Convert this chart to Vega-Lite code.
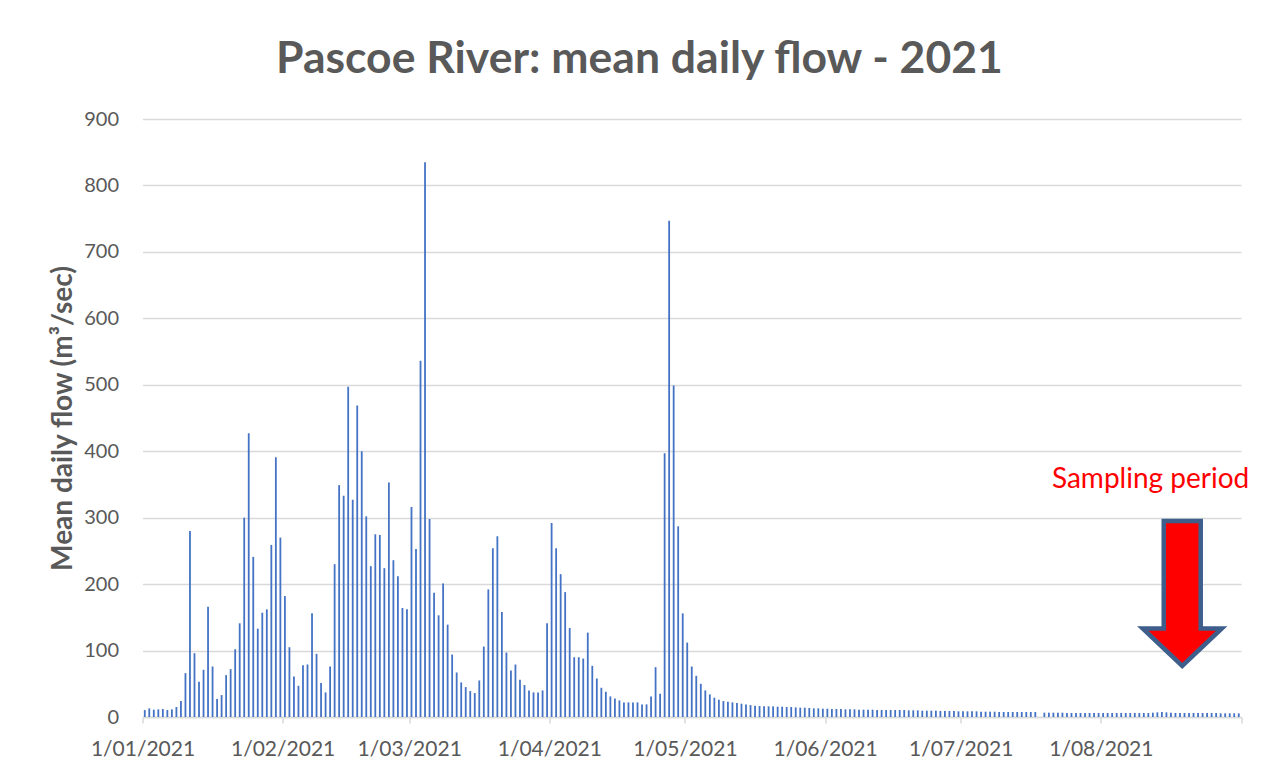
{
  "$schema": "https://vega.github.io/schema/vega-lite/v6.json",
  "width": 1098.5,
  "height": 598,
  "autosize": {"type": "none"},
  "padding": {"left": 142.5, "top": 119, "right": 21, "bottom": 57},
  "background": "white",
  "title": {
    "text": "Pascoe River: mean daily flow - 2021",
    "font": "Lato", "fontSize": 44.5, "fontWeight": "bold", "color": "#595959",
    "anchor": "middle", "frame": "bounds", "baseline": "alphabetic", "offset": -8, "dx": -10
  },
  "config": {"view": {"stroke": null}},
  "datasets": {
    "flow": [
      {"date":"2021-01-01","v":10.5},{"date":"2021-01-02","v":13},{"date":"2021-01-03","v":11},{"date":"2021-01-04","v":11.5},{"date":"2021-01-05","v":12},{"date":"2021-01-06","v":10.5},{"date":"2021-01-07","v":11.5},{"date":"2021-01-08","v":15},{"date":"2021-01-09","v":24},{"date":"2021-01-10","v":66},{"date":"2021-01-11","v":280},{"date":"2021-01-12","v":96},{"date":"2021-01-13","v":53},{"date":"2021-01-14","v":71},{"date":"2021-01-15","v":166},{"date":"2021-01-16","v":76},{"date":"2021-01-17","v":27},{"date":"2021-01-18","v":33},{"date":"2021-01-19","v":63},{"date":"2021-01-20","v":72},{"date":"2021-01-21","v":102},{"date":"2021-01-22","v":141},{"date":"2021-01-23","v":300},{"date":"2021-01-24","v":427},{"date":"2021-01-25","v":241},{"date":"2021-01-26","v":133},{"date":"2021-01-27","v":157},{"date":"2021-01-28","v":162},{"date":"2021-01-29","v":259},{"date":"2021-01-30","v":391},{"date":"2021-01-31","v":270},
      {"date":"2021-02-01","v":182},{"date":"2021-02-02","v":105},{"date":"2021-02-03","v":61},{"date":"2021-02-04","v":47},{"date":"2021-02-05","v":78},{"date":"2021-02-06","v":79},{"date":"2021-02-07","v":156},{"date":"2021-02-08","v":95},{"date":"2021-02-09","v":51},{"date":"2021-02-10","v":37},{"date":"2021-02-11","v":76},{"date":"2021-02-12","v":230},{"date":"2021-02-13","v":349},{"date":"2021-02-14","v":333},{"date":"2021-02-15","v":497},{"date":"2021-02-16","v":327},{"date":"2021-02-17","v":469},{"date":"2021-02-18","v":400},{"date":"2021-02-19","v":302},{"date":"2021-02-20","v":227},{"date":"2021-02-21","v":275},{"date":"2021-02-22","v":274},{"date":"2021-02-23","v":224},{"date":"2021-02-24","v":353},{"date":"2021-02-25","v":236},{"date":"2021-02-26","v":212},{"date":"2021-02-27","v":164},{"date":"2021-02-28","v":162},
      {"date":"2021-03-01","v":316},{"date":"2021-03-02","v":253},{"date":"2021-03-03","v":536},{"date":"2021-03-04","v":835},{"date":"2021-03-05","v":298},{"date":"2021-03-06","v":187},{"date":"2021-03-07","v":153},{"date":"2021-03-08","v":201},{"date":"2021-03-09","v":139},{"date":"2021-03-10","v":94},{"date":"2021-03-11","v":67},{"date":"2021-03-12","v":52},{"date":"2021-03-13","v":45},{"date":"2021-03-14","v":39},{"date":"2021-03-15","v":36},{"date":"2021-03-16","v":55},{"date":"2021-03-17","v":106},{"date":"2021-03-18","v":192},{"date":"2021-03-19","v":254},{"date":"2021-03-20","v":272},{"date":"2021-03-21","v":158},{"date":"2021-03-22","v":97},{"date":"2021-03-23","v":70},{"date":"2021-03-24","v":79},{"date":"2021-03-25","v":56},{"date":"2021-03-26","v":48},{"date":"2021-03-27","v":40},{"date":"2021-03-28","v":37},{"date":"2021-03-29","v":37},{"date":"2021-03-30","v":40},{"date":"2021-03-31","v":141},
      {"date":"2021-04-01","v":292},{"date":"2021-04-02","v":254},{"date":"2021-04-03","v":215},{"date":"2021-04-04","v":188},{"date":"2021-04-05","v":134},{"date":"2021-04-06","v":90},{"date":"2021-04-07","v":90},{"date":"2021-04-08","v":88},{"date":"2021-04-09","v":127},{"date":"2021-04-10","v":77},{"date":"2021-04-11","v":58},{"date":"2021-04-12","v":44},{"date":"2021-04-13","v":38},{"date":"2021-04-14","v":31},{"date":"2021-04-15","v":28},{"date":"2021-04-16","v":25},{"date":"2021-04-17","v":22},{"date":"2021-04-18","v":22},{"date":"2021-04-19","v":22},{"date":"2021-04-20","v":22},{"date":"2021-04-21","v":19},{"date":"2021-04-22","v":19},{"date":"2021-04-23","v":31},{"date":"2021-04-24","v":75},{"date":"2021-04-25","v":35},{"date":"2021-04-26","v":397},{"date":"2021-04-27","v":747},{"date":"2021-04-28","v":499},{"date":"2021-04-29","v":287},{"date":"2021-04-30","v":156},
      {"date":"2021-05-01","v":112},{"date":"2021-05-02","v":76},{"date":"2021-05-03","v":62},{"date":"2021-05-04","v":50},{"date":"2021-05-05","v":40},{"date":"2021-05-06","v":34},{"date":"2021-05-07","v":29},{"date":"2021-05-08","v":26},{"date":"2021-05-09","v":24},{"date":"2021-05-10","v":23},{"date":"2021-05-11","v":22},{"date":"2021-05-12","v":21},{"date":"2021-05-13","v":20},{"date":"2021-05-14","v":19},{"date":"2021-05-15","v":18},{"date":"2021-05-16","v":17},{"date":"2021-05-17","v":16.5},{"date":"2021-05-18","v":16},{"date":"2021-05-19","v":16},{"date":"2021-05-20","v":16},{"date":"2021-05-21","v":15.5},{"date":"2021-05-22","v":15.5},{"date":"2021-05-23","v":15},{"date":"2021-05-24","v":15},{"date":"2021-05-25","v":14.5},{"date":"2021-05-26","v":14},{"date":"2021-05-27","v":14},{"date":"2021-05-28","v":13.5},{"date":"2021-05-29","v":13},{"date":"2021-05-30","v":13},{"date":"2021-05-31","v":12.5},
      {"date":"2021-06-01","v":12.5},{"date":"2021-06-02","v":12},{"date":"2021-06-03","v":12},{"date":"2021-06-04","v":12},{"date":"2021-06-05","v":11.5},{"date":"2021-06-06","v":11.5},{"date":"2021-06-07","v":11.5},{"date":"2021-06-08","v":11},{"date":"2021-06-09","v":11},{"date":"2021-06-10","v":11},{"date":"2021-06-11","v":11},{"date":"2021-06-12","v":10.5},{"date":"2021-06-13","v":10.5},{"date":"2021-06-14","v":10.5},{"date":"2021-06-15","v":10.5},{"date":"2021-06-16","v":10.5},{"date":"2021-06-17","v":10.5},{"date":"2021-06-18","v":10.5},{"date":"2021-06-19","v":10},{"date":"2021-06-20","v":10},{"date":"2021-06-21","v":10},{"date":"2021-06-22","v":9.5},{"date":"2021-06-23","v":9.5},{"date":"2021-06-24","v":9.5},{"date":"2021-06-25","v":9.5},{"date":"2021-06-26","v":9},{"date":"2021-06-27","v":9},{"date":"2021-06-28","v":9},{"date":"2021-06-29","v":9},{"date":"2021-06-30","v":8.5},
      {"date":"2021-07-01","v":8.5},{"date":"2021-07-02","v":8.5},{"date":"2021-07-03","v":8.5},{"date":"2021-07-04","v":8.5},{"date":"2021-07-05","v":8},{"date":"2021-07-06","v":8},{"date":"2021-07-07","v":8},{"date":"2021-07-08","v":8},{"date":"2021-07-09","v":7.5},{"date":"2021-07-10","v":7.5},{"date":"2021-07-11","v":7.5},{"date":"2021-07-12","v":7.5},{"date":"2021-07-13","v":7.5},{"date":"2021-07-14","v":7.5},{"date":"2021-07-15","v":7.5},{"date":"2021-07-16","v":7.5},{"date":"2021-07-17","v":7.5},{"date":"2021-07-19","v":6.5},{"date":"2021-07-20","v":6.5},{"date":"2021-07-21","v":6.5},{"date":"2021-07-22","v":6.5},{"date":"2021-07-23","v":6.5},{"date":"2021-07-24","v":6},{"date":"2021-07-25","v":6},{"date":"2021-07-26","v":6},{"date":"2021-07-27","v":6},{"date":"2021-07-28","v":6},{"date":"2021-07-29","v":6},{"date":"2021-07-30","v":6},{"date":"2021-07-31","v":6},
      {"date":"2021-08-01","v":6},{"date":"2021-08-02","v":6},{"date":"2021-08-03","v":6},{"date":"2021-08-04","v":6},{"date":"2021-08-05","v":6},{"date":"2021-08-06","v":6},{"date":"2021-08-07","v":6},{"date":"2021-08-08","v":6},{"date":"2021-08-09","v":6},{"date":"2021-08-10","v":6},{"date":"2021-08-11","v":6},{"date":"2021-08-12","v":6.5},{"date":"2021-08-13","v":7},{"date":"2021-08-14","v":7.5},{"date":"2021-08-15","v":7},{"date":"2021-08-16","v":6.5},{"date":"2021-08-17","v":6},{"date":"2021-08-18","v":6},{"date":"2021-08-19","v":6},{"date":"2021-08-20","v":6},{"date":"2021-08-21","v":6},{"date":"2021-08-22","v":6},{"date":"2021-08-23","v":6},{"date":"2021-08-24","v":6},{"date":"2021-08-25","v":6},{"date":"2021-08-26","v":6},{"date":"2021-08-27","v":5.5},{"date":"2021-08-28","v":5.5},{"date":"2021-08-29","v":5.5},{"date":"2021-08-30","v":5.5},{"date":"2021-08-31","v":5.5}
    ],
    "notes": [
      {"date": "2021-08-19", "v": 186, "label": "Sampling period", "ldate": "2021-08-12", "lv": 356}
    ]
  },
  "layer": [
    {
      "data": {"name": "flow"},
      "mark": {"type": "rule", "color": "#4472C4", "strokeWidth": 1.8},
      "encoding": {
        "x": {
          "field": "date", "type": "temporal", "timeUnit": "utcyearmonthdate", "bandPosition": 0.5,
          "scale": {"type": "utc", "domain": [{"year": 2021, "month": 1, "date": 1, "utc": true}, {"year": 2021, "month": 9, "date": 1, "utc": true}]},
          "axis": {
            "title": null,
            "values": [
              {"year": 2021, "month": 1, "date": 1, "utc": true},
              {"year": 2021, "month": 2, "date": 1, "utc": true},
              {"year": 2021, "month": 3, "date": 1, "utc": true},
              {"year": 2021, "month": 4, "date": 1, "utc": true},
              {"year": 2021, "month": 5, "date": 1, "utc": true},
              {"year": 2021, "month": 6, "date": 1, "utc": true},
              {"year": 2021, "month": 7, "date": 1, "utc": true},
              {"year": 2021, "month": 8, "date": 1, "utc": true},
              {"year": 2021, "month": 9, "date": 1, "utc": true}
            ],
            "labelExpr": "utcmonth(datum.value) == 8 ? '' : utcFormat(datum.value, '%-d/%m/%Y')",
            "grid": false,
            "domainColor": "#D9D9D9", "domainWidth": 1.5,
            "tickColor": "#D9D9D9", "tickWidth": 1.5, "tickSize": 6,
            "labelFont": "Lato", "labelFontSize": 21, "labelColor": "#595959", "labelPadding": 15,
            "labelOverlap": false, "labelBound": false, "labelFlush": false
          }
        },
        "y": {
          "field": "v", "type": "quantitative",
          "scale": {"domain": [0, 900], "nice": false},
          "axis": {
            "title": "Mean daily flow (m³/sec)",
            "values": [0, 100, 200, 300, 400, 500, 600, 700, 800, 900],
            "domain": false, "ticks": false,
            "grid": true, "gridColor": "#D9D9D9", "gridWidth": 1.3,
            "labelFont": "Lato", "labelFontSize": 20, "labelColor": "#595959", "labelPadding": 24,
            "titleFont": "Lato", "titleFontSize": 28, "titleFontWeight": "bold", "titleColor": "#595959", "titlePadding": 6
          }
        },
        "y2": {"datum": 0}
      }
    },
    {
      "data": {"name": "notes"},
      "mark": {
        "type": "point",
        "shape": "M -0.255 -1 L 0.255 -1 L 0.255 0.483 L 0.545 0.483 L 0 1 L -0.545 0.483 L -0.255 0.483 Z",
        "size": 21025, "filled": true, "fill": "#FF0000", "stroke": "#3E5E8C", "strokeWidth": 4.5, "opacity": 1, "fillOpacity": 1, "strokeJoin": "miter"
      },
      "encoding": {
        "x": {"field": "date", "type": "temporal", "timeUnit": "utcyearmonthdate"},
        "y": {"field": "v", "type": "quantitative"}
      }
    },
    {
      "data": {"name": "notes"},
      "mark": {"type": "text", "font": "Lato", "fontSize": 28, "color": "#FF0000", "align": "center", "baseline": "middle"},
      "encoding": {
        "x": {"field": "ldate", "type": "temporal", "timeUnit": "utcyearmonthdate"},
        "y": {"field": "lv", "type": "quantitative"},
        "text": {"field": "label"}
      }
    }
  ]
}
